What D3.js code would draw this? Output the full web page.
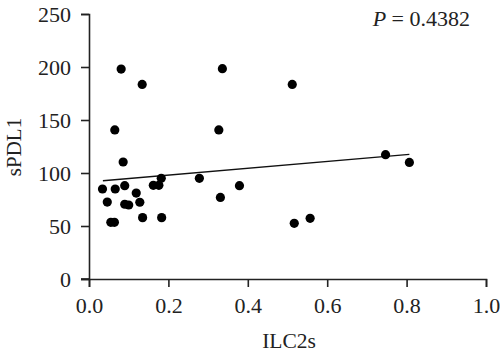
<!DOCTYPE html>
<html><head><meta charset="utf-8">
<script src="https://cdn.jsdelivr.net/npm/d3@7"></script>
<style>html,body{margin:0;padding:0;background:#fff;} svg text{font-family:'Liberation Serif','DejaVu Serif',serif;}</style>
</head><body>
<script>
const ilc2s = [0.081,0.134,0.336,0.065,0.327,0.086,0.512,0.747,0.807,0.517,0.557,
  0.034,0.046,0.055,0.064,0.066,0.090,0.090,0.100,0.119,0.128,0.135,0.162,0.176,0.182,0.183,0.278,0.331,0.379];
const spdl1 = [198,183.6,198.4,140.6,140.6,110.4,183.6,117.3,110,52.5,57.2,
  84.9,72.6,53.5,53.5,84.9,88,70.5,69.8,81.1,72.4,57.9,88.4,88.4,95,57.9,95,77,88];
const fitX = [0.035, 0.807];
const fitY = [92.7, 117.5];
const xTicks = [0.0,0.2,0.4,0.6,0.8,1.0];
const yTicks = [0,50,100,150,200,250];
const pLabel = "0.4382";

const W=500,H=357;
const svg=d3.select("body").append("svg").attr("width",W).attr("height",H);
const x=d3.scaleLinear().domain([0,1]).range([89,486]);
const y=d3.scaleLinear().domain([0,250]).range([279,14]);
const font="Liberation Serif, DejaVu Serif, serif";

const gx=svg.append("g").attr("transform","translate(0,279)")
  .call(d3.axisBottom(x).tickValues(xTicks).tickFormat(d3.format(".1f")).tickSizeOuter(0).tickSize(8).tickPadding(10));
const gy=svg.append("g").attr("transform","translate(89,0)")
  .call(d3.axisLeft(y).tickValues(yTicks).tickSizeOuter(0).tickSize(8).tickPadding(10));
[gx,gy].forEach(g=>{
  g.attr("font-family",font).attr("font-size",22);
  g.select(".domain").attr("stroke","#222").attr("stroke-width",1.6);
  g.selectAll(".tick line").attr("stroke","#222").attr("stroke-width",1.6);
  g.selectAll(".tick text").attr("fill","#222").attr("font-family",font).attr("font-size",22);
});
svg.append("line").attr("x1",81).attr("x2",89).attr("y1",279).attr("y2",279).attr("stroke","#222").attr("stroke-width",1.6);

svg.append("line")
  .attr("x1",x(fitX[0])).attr("y1",y(fitY[0]))
  .attr("x2",x(fitX[1])).attr("y2",y(fitY[1]))
  .attr("stroke","#111").attr("stroke-width",1.3);

svg.append("g").selectAll("circle").data(ilc2s.map((v,i)=>[v,spdl1[i]])).join("circle")
  .attr("cx",d=>x(d[0])).attr("cy",d=>y(d[1])).attr("r",4.6).attr("fill","#000");

svg.append("text").attr("x",289).attr("y",348).attr("text-anchor","middle")
  .attr("font-family",font).attr("font-size",21.5).attr("fill","#222").text("ILC2s");
svg.append("text").attr("transform","translate(21,147) rotate(-90)").attr("text-anchor","middle")
  .attr("font-family",font).attr("font-size",21).attr("fill","#222").text("sPDL1");
const t=svg.append("text").attr("x",470).attr("y",26).attr("text-anchor","end")
  .attr("font-family",font).attr("font-size",22).attr("fill","#222");
t.append("tspan").attr("font-style","italic").text("P");
t.append("tspan").text(" = "+pLabel);
</script>
</body></html>
